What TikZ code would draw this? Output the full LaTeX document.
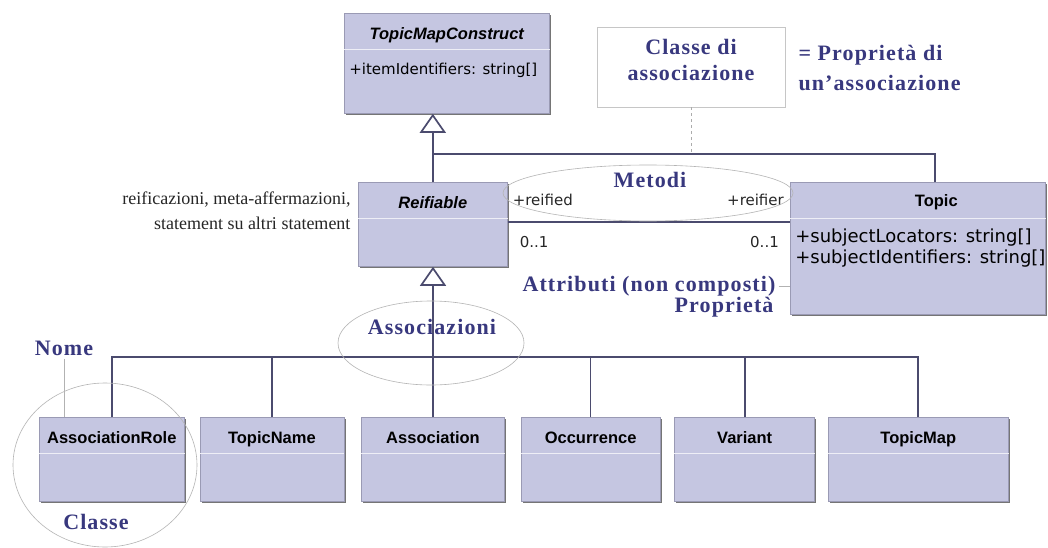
\documentclass[tikz,border=0pt]{standalone}
\usepackage{fontspec}
\usepackage{tikz}
\usetikzlibrary{shapes.geometric, shapes.multipart, arrows.meta, positioning, shadows}
\newfontfamily\titlefont{Liberation Sans}
\newfontfamily\attrfont{DejaVu Sans}
\newfontfamily\notefont[LetterSpace=5]{Liberation Serif}
\newfontfamily\glossfont{Liberation Serif}
\definecolor{classfill}{HTML}{C5C6E1}
\definecolor{classedge}{HTML}{9A9AB4}
\definecolor{linkgray}{HTML}{4B4B6E}
\definecolor{noteblue}{HTML}{38387E}
\definecolor{ringgray}{HTML}{B4B4B4}
% header and body heights of the class boxes
\newcommand{\headstrut}{\rule[-10pt]{0pt}{36pt}}
\newcommand{\emptybody}{\rule{0pt}{47pt}}
\newcommand{\attrtext}{\attrfont\mdseries\upshape\fontsize{15}{21}\selectfont}

\begin{document}
\begin{tikzpicture}[x=1pt, y=-1pt,
  umlclass/.style={rectangle split, rectangle split parts=2,
                   rectangle split draw splits=false,
                   fill=classfill, draw=classedge, line width=0.6pt,
                   inner xsep=5pt, inner ysep=0pt,
                   font=\titlefont\fontsize{16.5}{18}\selectfont\bfseries,
                   drop shadow={shadow xshift=1.6pt, shadow yshift=-1.6pt,
                                fill=black!60, opacity=0.9}},
  splitline/.style={draw=white!70!classfill, line width=1pt},
  conn/.style={draw=linkgray, line width=1.7pt},
  gen/.style={conn, -{Triangle[open, length=19pt, width=26pt, fill=white]}},
  role/.style={font=\attrtext, text=black!85},
  note/.style={font=\notefont\fontsize{22}{26}\selectfont\bfseries, text=noteblue},
  gloss/.style={font=\glossfont\fontsize{18}{25}\selectfont, text=black!85, align=right},
  ring/.style={ellipse, draw=ringgray, line width=0.6pt, inner sep=0pt},
  pointer/.style={draw=gray!60, line width=0.6pt},
  classlink/.style={draw=gray!65, line width=0.6pt, dashed},
]
  \path[use as bounding box, fill=white] (0,0) rectangle (1048,548);

  % abstract classes and Topic
  \node[umlclass, anchor=north west] (tmc) at (344,13)
    {\itshape\headstrut TopicMapConstruct
     \nodepart{two}\attrtext\rule[-39pt]{0pt}{63pt}\makebox[195pt][l]{+itemIdentifiers: string[]}};
  \node[umlclass, anchor=north west, minimum width=149pt] (reif) at (358,182)
    {\itshape\headstrut Reifiable \nodepart{two}\emptybody};
  \node[umlclass, anchor=north west] (topic) at (790,182)
    {\hspace*{37pt}\rule[-12pt]{0pt}{36pt}Topic
     \nodepart{two}\attrtext\fontsize{18}{21}\selectfont\rule[-72pt]{0pt}{95pt}%
     \makebox[245pt][l]{\begin{tabular}[t]{@{}l@{}}
       +subjectLocators: string[]\\+subjectIdentifiers: string[]
     \end{tabular}}};

  % concrete subclasses
  \node[umlclass, anchor=north west, minimum width=145pt] (arole) at (39,417)
    {\headstrut AssociationRole \nodepart{two}\emptybody};
  \node[umlclass, minimum width=144pt, right=15pt of arole] (tname)
    {\headstrut TopicName \nodepart{two}\emptybody};
  \node[umlclass, minimum width=143pt, right=17pt of tname] (assoc)
    {\headstrut Association \nodepart{two}\emptybody};
  \node[umlclass, minimum width=139pt, right=16pt of assoc] (occ)
    {\headstrut Occurrence \nodepart{two}\emptybody};
  \node[umlclass, minimum width=140pt, right=14pt of occ] (variant)
    {\headstrut Variant \nodepart{two}\emptybody};
  \node[umlclass, minimum width=180pt, right=13pt of variant] (tmap)
    {\headstrut TopicMap \nodepart{two}\emptybody};

  \foreach \c in {tmc, reif, topic, arole, tname, assoc, occ, variant, tmap}
    \draw[splitline] (\c.text split west) -- (\c.text split east);

  % generalisations
  \coordinate (gen top) at (432,154);
  \coordinate (bus) at (432,357);
  \draw[gen] (reif.north) -- (reif.north |- tmc.south);
  \draw[conn] ([xshift=17.5pt]topic.north) |- (gen top);
  \draw[gen] (assoc.north) -- (assoc.north |- reif.south);
  \foreach \c in {arole, tname, occ, variant, tmap}
    \draw[conn] (\c.north) |- (bus);

  % reification association
  \draw[conn] ([yshift=2.5pt]reif.east) -- ([yshift=2.5pt]reif.east -| topic.west)
    node[role, pos=0, above right=12pt and 1pt] {+reified}
    node[role, pos=0, below right=10pt and 8pt] {0..1}
    node[role, pos=1, above left=12pt and 2pt] {+reifier}
    node[role, pos=1, below left=10pt and 7pt] {0..1};

  % notes
  \node[draw=gray!45, fill=white, line width=0.6pt,
        minimum width=188pt, minimum height=80pt,
        label={[note, align=center, yshift=7pt]center:{Classe di\\associazione}}]
        (assocclass) at (691,67) {};
  \draw[classlink] (assocclass.south) -- (assocclass.south |- gen top);
  \node[note, align=left, anchor=west, font=\notefont\fontsize{22}{30}\selectfont\bfseries]
        (meaning) at (795,68) {= Proprietà di\\un’associazione};

  \node[gloss, anchor=east] (reifnote) at (354,211)
        {reificazioni, meta-affermazioni,\\statement su altri statement};

  \node[note] (methods) at (650,180) {Metodi};
  \node[note, anchor=west] (attrs) at (519,286) {Attributi (non composti)};
  \node[note, anchor=east] (props) at (777,307) {Proprietà};
  \node[note] (assocs) at (432,327) {Associazioni};
  \node[note] (name) at (64,348) {Nome};
  \node[note] (classlbl) at (96,522) {Classe};

  \draw[pointer] (attrs.east) -- (attrs.east -| topic.west);
  \draw[pointer] (name.south) -- (name.south |- arole.north);

  \node[ring, minimum width=290pt, minimum height=56pt] (methodring) at (648,193) {};
  \node[ring, minimum width=186pt, minimum height=84pt] (assocring) at (431,343) {};
  \node[ring, minimum width=184pt, minimum height=164pt] (classring) at (105,465) {};
\end{tikzpicture}
\end{document}
